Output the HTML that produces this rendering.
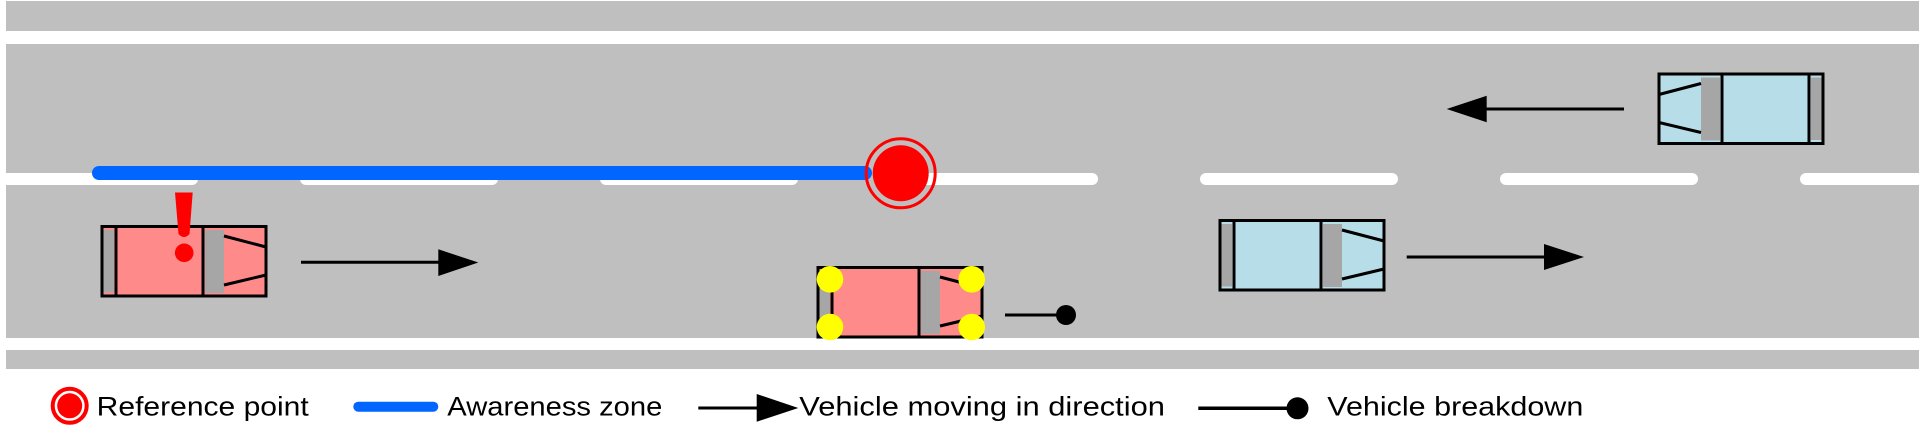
<!DOCTYPE html>
<html>
<head>
<meta charset="utf-8">
<style>
html,body{margin:0;padding:0;background:#fff;}
svg{display:block;}
text{font-family:"Liberation Sans", sans-serif;font-size:27px;fill:#000;}
</style>
</head>
<body>
<svg width="1925" height="445" viewBox="0 0 1925 445" xmlns="http://www.w3.org/2000/svg">
  <defs>
    <clipPath id="roadclip"><rect x="6" y="44" width="1913" height="294"/></clipPath>
    <g id="car">
      <rect x="102" y="226.5" width="164" height="69.5"/>
      <rect x="103.5" y="230" width="10.5" height="62.5" fill="#A6A6A6"/>
      <rect x="205" y="230" width="19" height="63" fill="#A6A6A6"/>
      <line x1="116" y1="226.5" x2="116" y2="296" stroke="#000" stroke-width="3"/>
      <line x1="203" y1="226.5" x2="203" y2="296" stroke="#000" stroke-width="3"/>
      <line x1="224" y1="236" x2="266" y2="247" stroke="#000" stroke-width="3"/>
      <line x1="224" y1="285" x2="266" y2="275" stroke="#000" stroke-width="3"/>
      <rect x="102" y="226.5" width="164" height="69.5" fill="none" stroke="#000" stroke-width="3"/>
    </g>
  </defs>

  <!-- road bands -->
  <rect x="6" y="1" width="1913" height="30" fill="#BFBFBF"/>
  <rect x="6" y="44" width="1913" height="294" fill="#BFBFBF"/>
  <rect x="6" y="350" width="1913" height="19" fill="#BFBFBF"/>

  <!-- center dashes -->
  <g clip-path="url(#roadclip)" fill="#FFFFFF">
    <rect x="-10" y="173" width="208" height="12" rx="6"/>
    <rect x="300" y="173" width="198" height="12" rx="6"/>
    <rect x="600" y="173" width="198" height="12" rx="6"/>
    <rect x="900" y="173" width="198" height="12" rx="6"/>
    <rect x="1200" y="173" width="198" height="12" rx="6"/>
    <rect x="1500" y="173" width="198" height="12" rx="6"/>
    <rect x="1800" y="173" width="198" height="12" rx="6"/>
  </g>

  <!-- awareness zone -->
  <line x1="99" y1="173" x2="865" y2="173" stroke="#0066FF" stroke-width="14" stroke-linecap="round"/>

  <!-- reference point -->
  <circle cx="900.7" cy="173.3" r="34.5" fill="none" stroke="#FF0000" stroke-width="3"/>
  <circle cx="900.7" cy="173.3" r="28" fill="#FF0000"/>

  <!-- red car 1 -->
  <use href="#car" fill="#FF8A8A"/>
  <!-- exclamation -->
  <path d="M175,192.5 L192.7,192.5 L189.5,234 Q184,240 178.5,234 Z" fill="#FF0000"/>
  <circle cx="184.2" cy="252.8" r="9.3" fill="#FF0000"/>
  <!-- arrow 1 -->
  <line x1="301" y1="262.3" x2="440" y2="262.3" stroke="#000" stroke-width="3"/>
  <polygon points="438.3,249.3 478.3,262.5 438.3,276" fill="#000"/>

  <!-- broken car -->
  <use href="#car" fill="#FF8A8A" transform="translate(716,41)"/>
  <circle cx="830" cy="279.3" r="13.3" fill="#FFFF00"/>
  <circle cx="830" cy="327" r="13.3" fill="#FFFF00"/>
  <circle cx="971.7" cy="279.3" r="13.3" fill="#FFFF00"/>
  <circle cx="971.7" cy="327" r="13.3" fill="#FFFF00"/>
  <line x1="1005" y1="315" x2="1066" y2="315" stroke="#000" stroke-width="3"/>
  <circle cx="1066" cy="315" r="10" fill="#000"/>

  <!-- blue car bottom -->
  <use href="#car" fill="#B7DDE8" transform="translate(1118,-6)"/>
  <line x1="1406.7" y1="257" x2="1546" y2="257" stroke="#000" stroke-width="3"/>
  <polygon points="1544,244 1584,257 1544,270" fill="#000"/>

  <!-- blue car top (facing left) -->
  <use href="#car" fill="#B7DDE8" transform="translate(1925,-152.5) scale(-1,1)"/>
  <line x1="1485" y1="109" x2="1624" y2="109" stroke="#000" stroke-width="3"/>
  <polygon points="1486.7,95.7 1446.7,109 1486.7,122.3" fill="#000"/>

  <!-- legend -->
  <circle cx="69.7" cy="405.8" r="17" fill="none" stroke="#FF0000" stroke-width="4"/>
  <circle cx="69.7" cy="405.8" r="12.5" fill="#FF0000"/>
  <text x="96.7" y="415.7" textLength="212" lengthAdjust="spacingAndGlyphs">Reference point</text>

  <line x1="358.3" y1="406.7" x2="433.3" y2="406.7" stroke="#0066FF" stroke-width="10" stroke-linecap="round"/>
  <text x="447.3" y="415.7" textLength="215" lengthAdjust="spacingAndGlyphs">Awareness zone</text>

  <line x1="698.3" y1="408" x2="758" y2="408" stroke="#000" stroke-width="3"/>
  <polygon points="756.7,394 798.3,408 756.7,421.7" fill="#000"/>
  <text x="799.3" y="415.7" textLength="365.7" lengthAdjust="spacingAndGlyphs">Vehicle moving in direction</text>

  <line x1="1198.3" y1="408.3" x2="1297" y2="408.3" stroke="#000" stroke-width="3.5"/>
  <circle cx="1297.5" cy="408.3" r="11" fill="#000"/>
  <text x="1327.3" y="415.7" textLength="256" lengthAdjust="spacingAndGlyphs">Vehicle breakdown</text>
</svg>
</body>
</html>
